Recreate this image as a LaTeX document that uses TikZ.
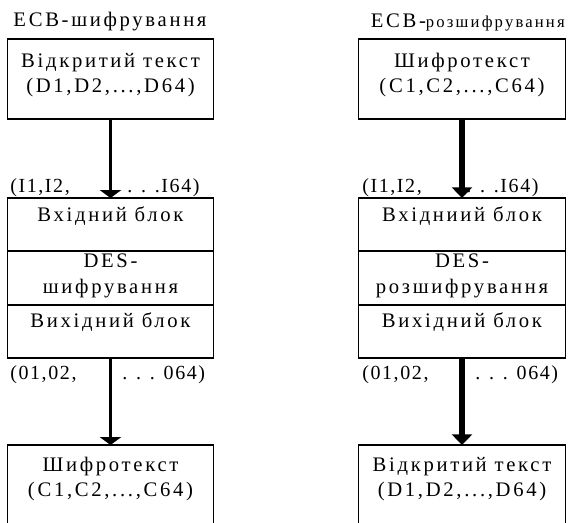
\documentclass[tikz,border=0pt]{standalone}
\usepackage{fontspec}
\setmainfont{Liberation Serif}
\usetikzlibrary{arrows.meta,positioning}

\begin{document}
\begin{tikzpicture}[
    x=0.75pt, y=-0.75pt,
    txt/.style={font=\fontsize{15.5}{19}\selectfont\addfontfeatures{LetterSpace=13}, inner sep=0pt, align=center},
    tag/.style={font=\fontsize{15}{17}\selectfont\addfontfeatures{LetterSpace=8}, inner sep=0pt, anchor=west},
    frame/.style={draw, line width=0.9pt, outer sep=0pt, minimum width=155pt, anchor=north},
    flow/.style={-{Triangle[width=16pt,length=6pt]}, line width=2.2pt},
    flowbold/.style={-{Triangle[width=15pt,length=8pt]}, line width=4pt}
]
    \clip (0,0) rectangle (570,522);

    % Left: encryption
    \node[txt] (titleL) at (110,22) {ECB-шифрування};
    \node[frame, minimum height=60pt] (plainL) at (110.5,39) {};
    \node[txt] (plainLt) at (110.5,75) {Відкритий текст\\(D1,D2,...,D64)};
    \node[frame, minimum height=39.75pt] (inL) at (110.5,198) {};
    \node[frame, minimum height=40.5pt, below=0pt of inL] (desL) {};
    \node[frame, minimum height=39.75pt, below=0pt of desL] (outL) {};
    \node[txt] (inLt) at (110.5,216) {Вхідний блок};
    \node[txt] (desLt) at (110.5,276) {DES-\\шифрування};
    \node[txt] (outLt) at (110.5,322) {Вихідний блок};
    \node[frame, minimum height=90pt] (cipherL) at (110.5,445) {};
    \node[txt] (cipherLt) at (110.5,479) {Шифротекст\\(C1,C2,...,C64)};
    \draw[flow] (plainL) -- (inL);
    \draw[flow] (outL) -- (cipherL);
    \node[tag] (inLa) at (10,188) {(I1,I2,};
    \node[tag] (inLb) at (127,188) {. . .I64)};
    \node[tag] (outLa) at (10,375) {(01,02,};
    \node[tag] (outLb) at (122,375) {. . . 064)};

    % Right: decryption
    \node[txt, anchor=east] (titleR) at (565,22) {ECB-{\fontsize{12.5}{14}\selectfont розшифрування}};
    \node[frame, minimum height=60pt] (cipherR) at (462,39) {};
    \node[txt] (cipherRt) at (462,75) {Шифротекст\\(C1,C2,...,C64)};
    \node[frame, minimum height=39.75pt] (inR) at (462,198) {};
    \node[frame, minimum height=40.5pt, below=0pt of inR] (desR) {};
    \node[frame, minimum height=39.75pt, below=0pt of desR] (outR) {};
    \node[txt] (inRt) at (462,216) {Вхідниий блок};
    \node[txt] (desRt) at (462,276) {DES-\\розшифрування};
    \node[txt] (outRt) at (462,322) {Вихідний блок};
    \node[frame, minimum height=90pt] (plainR) at (462,445) {};
    \node[txt] (plainRt) at (462,479) {Відкритий текст\\(D1,D2,...,D64)};
    \draw[flowbold] (cipherR) -- (inR);
    \draw[flowbold] (outR) -- (plainR);
    \node[tag] (inRa) at (362,188) {(I1,I2,};
    \node[tag] (inRb) at (466,188) {. . .I64)};
    \node[tag] (outRa) at (362,375) {(01,02,};
    \node[tag] (outRb) at (475,375) {. . . 064)};
\end{tikzpicture}
\end{document}
